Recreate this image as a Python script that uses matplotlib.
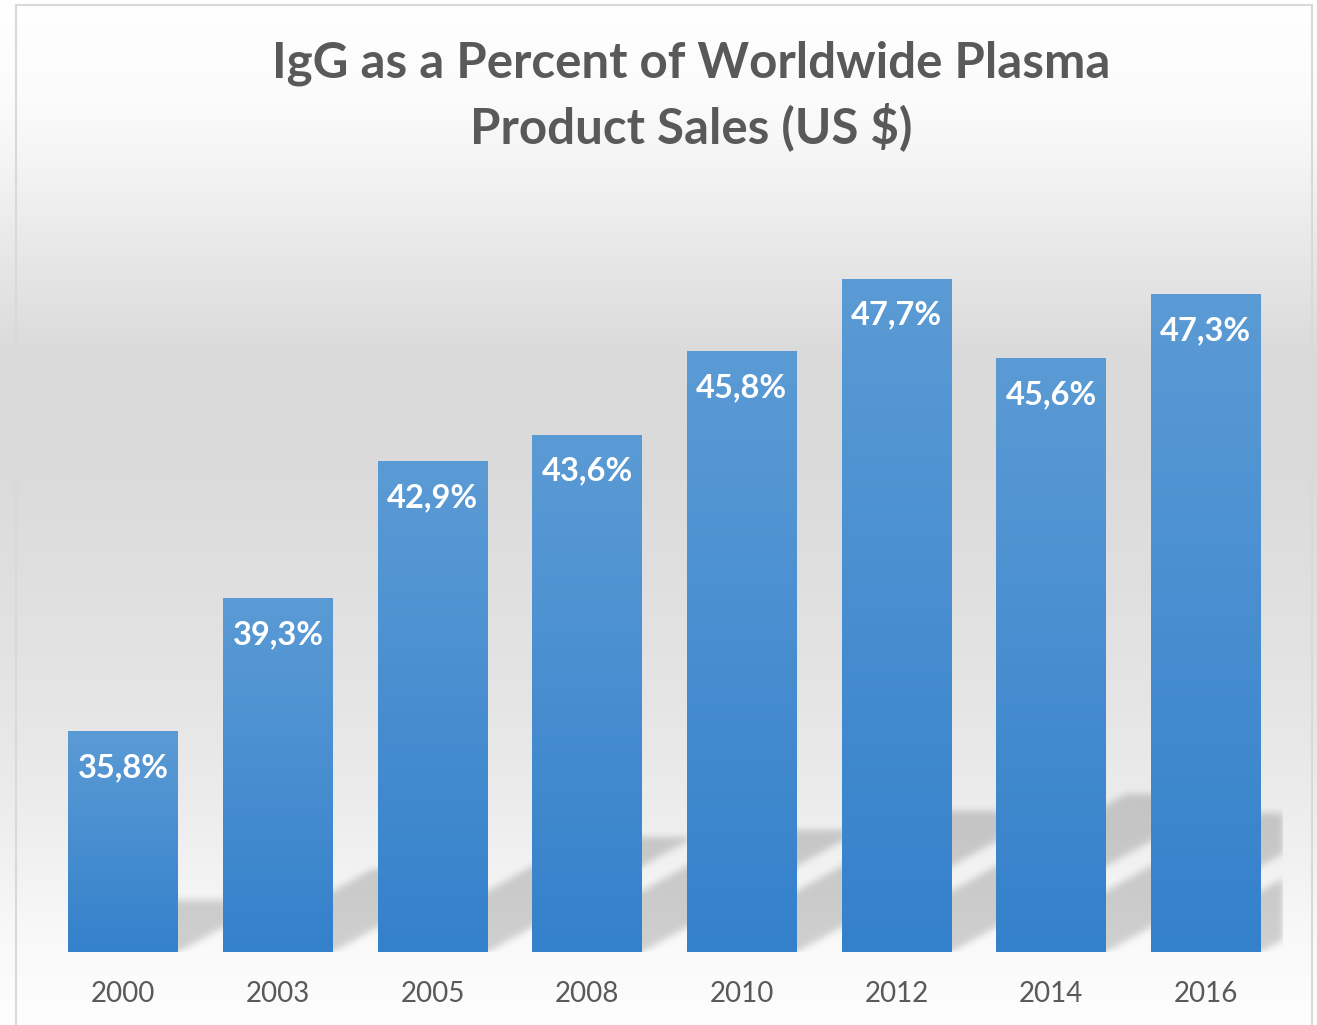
import numpy as np
import matplotlib
matplotlib.use("Agg")
import matplotlib.pyplot as plt
from matplotlib.patches import Rectangle

# ---------------- data ----------------
years = ["2000", "2003", "2005", "2008", "2010", "2012", "2014", "2016"]
values = [35.8, 39.3, 42.9, 43.6, 45.8, 47.7, 45.6, 47.3]
value_labels = ["35,8%", "39,3%", "42,9%", "43,6%", "45,8%", "47,7%", "45,6%", "47,3%"]
title_lines = ["IgG as a Percent of Worldwide Plasma", "Product Sales (US $)"]
y_min, y_max = 30, 50

FONT = ['Lato', 'DejaVu Sans']
W, H = 1317, 1025
fig = plt.figure(figsize=(W / 100, H / 100), dpi=100)

# ---------------- background gradient ----------------
bg = fig.add_axes([0, 0, 1, 1], zorder=-10)
stops_y = [0, 100, 150, 250, 350, 450, 550, 700, 800, 900, 950, 1025]
stops_v = [255, 251, 246, 232, 219, 218, 222, 229, 236, 245, 250, 253]
grad = np.interp(np.arange(H), stops_y, stops_v) / 255.0
bg_img = np.repeat(grad[:, None], 3, axis=1)[:, None, :]
bg.imshow(bg_img, aspect='auto', extent=[0, 1, 0, 1], interpolation='bilinear')
bg.axis('off')

# chart border
fig.add_artist(Rectangle((16 / W, -0.02), (1312 - 16) / W, (H - 5) / H + 0.02,
                         transform=fig.transFigure, fill=False,
                         edgecolor='#d9d9d9', lw=1.5))

# ---------------- main axes ----------------
ax_l, ax_r, ax_t, ax_b = 46, 1283, 191, 952
ax = fig.add_axes([ax_l / W, (H - ax_b) / H, (ax_r - ax_l) / W, (ax_b - ax_t) / H])
ax.set_facecolor('none')
n = len(years)
x = np.arange(n)
bar_w = 0.71
ax.set_xlim(-0.5, n - 0.5)
ax.set_ylim(y_min, y_max)

bars = ax.bar(x, values, width=bar_w, color='#4a90d2', zorder=3)

# gradient fill for each bar
top_c = np.array([91, 155, 213]) / 255.0
bot_c = np.array([52, 129, 203]) / 255.0
t = np.linspace(0, 1, 256)[:, None]
bar_grad = (top_c[None, :] * (1 - t) + bot_c[None, :] * t)[:, None, :]
for b in bars:
    b.set_facecolor('none')
    im = ax.imshow(bar_grad, aspect='auto', zorder=4,
                   extent=(b.get_x(), b.get_x() + b.get_width(), y_min, b.get_height()),
                   interpolation='bilinear')
    im.set_clip_path(b)

# ---------------- perspective shadows ----------------
aw, ah = ax_r - ax_l, ax_b - ax_t
px_x = aw / n
px_y = ah / (y_max - y_min)
X, Y = np.meshgrid(np.arange(aw) + 0.5, np.arange(ah) + 0.5)
mask = np.zeros_like(X)
k = 1.8
for xi, v in zip(x, values):
    a = (xi - bar_w / 2 + 0.5) * px_x
    bb = a + bar_w * px_x
    hh = 0.235 * (v - y_min) * px_y
    xs = X - k * Y
    m = (Y <= hh) & (xs >= a) & (xs <= bb)
    mask = np.maximum(mask, m.astype(float))

def blur(arr, sigma):
    r = int(3 * sigma)
    kk = np.exp(-0.5 * (np.arange(-r, r + 1) / sigma) ** 2)
    kk /= kk.sum()
    arr = np.apply_along_axis(lambda c: np.convolve(c, kk, mode='same'), 0, arr)
    arr = np.apply_along_axis(lambda c: np.convolve(c, kk, mode='same'), 1, arr)
    return arr

mask = blur(mask, 3.5)
sh = np.zeros((ah, aw, 4))
sh[..., 3] = 0.17 * mask
ax.imshow(sh, origin='lower', aspect='auto', zorder=1,
          extent=(-0.5, n - 0.5, y_min, y_max), interpolation='bilinear')

# ---------------- labels ----------------
for xi, v, lab in zip(x, values, value_labels):
    ax.annotate(lab, (xi, v), xytext=(0, -16), textcoords='offset points',
                ha='center', va='top', color='white', fontsize=23.5,
                fontweight='bold', family=FONT, zorder=6)

ax.set_xticks(x, years)
ax.tick_params(axis='x', length=0, pad=21, labelsize=20, labelcolor='#595959')
for lab in ax.get_xticklabels():
    lab.set_family(FONT)
ax.set_yticks([])
for s in ax.spines.values():
    s.set_visible(False)

for i, line in enumerate(title_lines):
    fig.text(691 / W, 1 - (63 + 64 * i) / H, line, ha='center', va='center',
             fontsize=35.5, fontweight='bold', color='#595959', family=FONT)

fig.savefig('out.png', dpi=100)
